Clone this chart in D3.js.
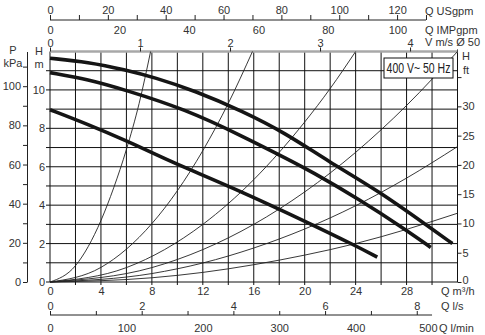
<!DOCTYPE html>
<html>
<head>
<meta charset="utf-8">
<script src="https://cdn.jsdelivr.net/npm/d3@7"></script>
<style>
  body { margin: 0; background: #fff; }
  svg text { font-family: "Liberation Sans", Arial, sans-serif; font-size: 11px; fill: #333; }
  .axis .domain { stroke: #222; }
  .axis line { stroke: #222; }
</style>
</head>
<body>
<svg class="chart"></svg>
<script>
// pump curves at three speeds, [Q m3/h, H m]
const speed3 = [[0, 11.65], [3, 11.45], [5.9, 11.05], [8.2, 10.65], [11.4, 9.95], [15.1, 8.9],
                [18.5, 7.75], [21.8, 6.3], [25.9, 4.7], [29.8, 2.85], [31.6, 2.0]];
const speed2 = [[0, 10.9], [3, 10.55], [5.9, 10.0], [10.6, 9.0], [15.1, 7.6], [18.8, 6.35],
                [20.4, 5.8], [24.3, 4.3], [28.0, 2.7], [29.9, 1.8]];
const speed1 = [[0, 8.97], [3, 8.2], [5.9, 7.38], [9.3, 6.34], [10.8, 5.9], [15.1, 4.69],
                [20.4, 3.05], [23.9, 1.92], [25.7, 1.3]];

// system (resistance) curves
const sysA = [[0, 0], [2, 0.85], [4, 3.2], [5, 4.9], [6, 6.9], [7, 9.3], [7.9, 12]];
const sysB = [[0, 0], [4, 0.76], [8, 3.04], [10, 4.75], [12, 6.84], [14, 9.3], [15.9, 12]];
const sysC = [[0, 0], [6, 0.75], [12, 3.0], [16, 5.33], [18, 6.75], [20, 8.33], [22, 10.07], [24, 12]];
const sysD = [[0, 0], [8, 0.75], [16, 3.0], [20, 4.69], [24, 6.75], [28, 9.19], [32, 12]];
const sysE = [[0, 0], [8, 0.44], [12, 0.99], [16, 1.77], [20, 2.76], [24, 3.97], [28, 5.41], [32, 7.05]];
const sysF = [[0, 0], [8, 0.22], [12, 0.5], [16, 0.9], [20, 1.4], [24, 2.0], [28, 2.74], [32, 3.58]];

// tick values for each scale
const qM3hTicks = [0, 4, 8, 12, 16, 20, 24, 28];
const gridQ = [2, 4, 6, 8, 10, 12, 14, 16, 18, 20, 22, 24, 26, 28, 30];
const gridH = [1, 2, 3, 4, 5, 6, 7, 8, 9, 10, 11];
const hMTicks = [0, 2, 4, 6, 8, 10];
const pKpaTicks = [0, 10, 20, 30, 40, 50, 60, 70, 80, 90, 100, 110];
const pKpaLabels = [0, 20, 40, 60, 80, 100];
const hFtTicks = [0, 5, 10, 15, 20, 25, 30, 35];
const hFtLabels = [0, 5, 10, 15, 20, 25, 30];
const usTicks = [0, 10, 20, 30, 40, 50, 60, 70, 80, 90, 100, 110, 120, 130];
const usLabels = [0, 20, 40, 60, 80, 100, 120];
const impLabels = [0, 20, 40, 60, 80, 100];
const vTicks = [0, 1, 2, 3, 4];
const lsTicks = [0, 1, 2, 3, 4, 5, 6, 7, 8];
const lsLabels = [0, 2, 4, 6, 8];
const lminLabels = [0, 100, 200, 300, 400, 500];

const width = 485, height = 335;
const plotLeft = 50, plotRight = 457.5, plotTop = 51.5, plotBottom = 282;

const svg = d3.select(".chart").attr("width", width).attr("height", height);

const x = d3.scaleLinear().domain([0, 32]).range([plotLeft, plotRight]);
const y = d3.scaleLinear().domain([0, 12]).range([plotBottom, plotTop]);

// unit conversions for the extra axes
const xUS = d3.scaleLinear().domain([0, 32 * 4.4029]).range([plotLeft, plotRight]);
const xIMP = d3.scaleLinear().domain([0, 32 * 3.6662]).range([plotLeft, plotRight]);
const xV = d3.scaleLinear().domain([0, 32 / 3600 / (Math.PI * 0.025 * 0.025)]).range([plotLeft, plotRight]);
const xLs = d3.scaleLinear().domain([0, 32 / 3.6]).range([plotLeft, plotRight]);
const xLmin = d3.scaleLinear().domain([0, 32 / 0.06]).range([plotLeft, plotRight]);
const yKpa = d3.scaleLinear().domain([0, 12 * 9.81]).range([plotBottom, plotTop]);
const yFt = d3.scaleLinear().domain([0, 12 / 0.3048]).range([plotBottom, plotTop]);

const fmtOnly = (list) => (d) => list.includes(d) ? d : "";
// drop the empty labels of unlabelled ticks
const dropEmpty = (g) => g.selectAll(".tick text").filter(function() { return this.textContent === ""; }).remove();

// grid
svg.append("g").selectAll("line")
    .data(gridQ)
  .enter().append("line")
    .attr("x1", d => x(d)).attr("x2", d => x(d))
    .attr("y1", plotTop).attr("y2", plotBottom + 3)
    .attr("stroke", "#111").attr("stroke-width", 1);

svg.append("g").selectAll("line")
    .data(gridH)
  .enter().append("line")
    .attr("x1", plotLeft - 4).attr("x2", plotRight)
    .attr("y1", d => y(d)).attr("y2", d => y(d))
    .attr("stroke", "#111").attr("stroke-width", 1);

// frame
svg.append("line").attr("x1", plotLeft).attr("x2", plotLeft).attr("y1", plotTop).attr("y2", plotBottom)
    .attr("stroke", "#111");
svg.append("line").attr("x1", plotRight).attr("x2", plotRight).attr("y1", plotTop - 2).attr("y2", plotBottom)
    .attr("stroke", "#111");
svg.append("line").attr("x1", plotLeft - 4).attr("x2", plotRight).attr("y1", plotBottom).attr("y2", plotBottom)
    .attr("stroke", "#111");
svg.append("line").attr("x1", plotLeft).attr("x2", plotRight).attr("y1", plotTop).attr("y2", plotTop)
    .attr("stroke", "#a8a8a8").attr("stroke-width", 2.5);

// system curves
const thin = d3.line().x(d => x(d[0])).y(d => y(d[1])).curve(d3.curveMonotoneX);
svg.append("g").selectAll("path")
    .data([sysA, sysB, sysC, sysD, sysE, sysF])
  .enter().append("path")
    .attr("d", thin)
    .attr("fill", "none")
    .attr("stroke", "#222")
    .attr("stroke-width", 0.9);

// pump curves
const thick = d3.line().x(d => x(d[0])).y(d => y(d[1])).curve(d3.curveBasis);
svg.append("g").selectAll("path")
    .data([speed3, speed2, speed1])
  .enter().append("path")
    .attr("d", thick)
    .attr("fill", "none")
    .attr("stroke", "#151515")
    .attr("stroke-width", 3.6);

// left H m axis
const hAxis = svg.append("g").attr("class", "axis")
    .attr("transform", "translate(" + plotLeft + ",0)")
    .call(d3.axisLeft(y).tickValues(hMTicks).tickSize(0).tickPadding(5));
hAxis.select(".domain").remove();

// P kPa axis
svg.append("g").attr("class", "axis")
    .attr("transform", "translate(27,0)")
    .call(d3.axisLeft(yKpa).tickValues(pKpaTicks).tickFormat(fmtOnly(pKpaLabels))
            .tickSize(4).tickSizeOuter(0).tickPadding(2))
    .call(dropEmpty);

// H ft axis
const ftAxis = svg.append("g").attr("class", "axis")
    .attr("transform", "translate(" + plotRight + ",0)")
    .call(d3.axisRight(yFt).tickValues(hFtTicks).tickFormat(fmtOnly(hFtLabels))
            .tickSize(4).tickPadding(1))
    .call(dropEmpty);
ftAxis.select(".domain").remove();
ftAxis.selectAll(".tick text").filter(d => d === 0).attr("dy", "0.1em");

// bottom m3/h axis
const qAxis = svg.append("g").attr("class", "axis")
    .attr("transform", "translate(0," + plotBottom + ")")
    .call(d3.axisBottom(x).tickValues(qM3hTicks).tickSize(0).tickPadding(5));
qAxis.select(".domain").remove();

// l/s and l/min axes
const lsY = 315;
svg.append("line").attr("x1", plotLeft).attr("x2", xLmin(500)).attr("y1", lsY).attr("y2", lsY)
    .attr("stroke", "#222");
const lsAxis = svg.append("g").attr("class", "axis")
    .attr("transform", "translate(0," + lsY + ")")
    .call(d3.axisTop(xLs).tickValues(lsTicks).tickFormat(fmtOnly(lsLabels)).tickSize(4).tickPadding(1))
    .call(dropEmpty);
lsAxis.select(".domain").remove();
const lminAxis = svg.append("g").attr("class", "axis")
    .attr("transform", "translate(0," + lsY + ")")
    .call(d3.axisBottom(xLmin).tickValues(lminLabels).tickSize(0).tickPadding(9));
lminAxis.select(".domain").remove();
lminAxis.selectAll(".tick text").filter(d => d === 500)
    .attr("text-anchor", "end").attr("x", 5);

// top USgpm / IMPgpm axes
const usY = 20;
svg.append("line").attr("x1", plotLeft).attr("x2", xUS(130)).attr("y1", usY).attr("y2", usY)
    .attr("stroke", "#222");
const usAxis = svg.append("g").attr("class", "axis")
    .attr("transform", "translate(0," + usY + ")")
    .call(d3.axisTop(xUS).tickValues(usTicks).tickFormat(fmtOnly(usLabels)).tickSize(5).tickPadding(1))
    .call(dropEmpty);
usAxis.select(".domain").remove();
const impAxis = svg.append("g").attr("class", "axis")
    .attr("transform", "translate(0," + usY + ")")
    .call(d3.axisBottom(xIMP).tickValues(impLabels).tickSize(0).tickPadding(6));
impAxis.select(".domain").remove();

// velocity axis
const vAxis = svg.append("g").attr("class", "axis")
    .attr("transform", "translate(0," + plotTop + ")")
    .call(d3.axisTop(xV).tickValues(vTicks).tickFormat(d3.format("d")).tickSize(4).tickPadding(1));
vAxis.select(".domain").remove();

// unit labels
const labels = [
  ["Q USgpm", 425, 15], ["Q IMPgpm", 425, 34], ["V m/s Ø 50", 425, 46],
  ["Q m³/h", 441, 295], ["Q l/s", 441, 310], ["Q l/min", 439, 332],
  ["P", 13, 54], ["kPa", 13, 67], ["H", 39, 55], ["m", 39, 68],
  ["H", 466, 60], ["ft", 466, 74]
];
svg.append("g").selectAll("text")
    .data(labels)
  .enter().append("text")
    .attr("x", d => d[1])
    .attr("y", d => d[2])
    .attr("text-anchor", d => d[1] < 60 || d[1] > 460 ? "middle" : "start")
    .text(d => d[0]);

// voltage box
svg.append("rect")
    .attr("x", 384).attr("y", 58).attr("width", 69).attr("height", 20)
    .attr("fill", "#fff").attr("stroke", "#111");
svg.append("text")
    .attr("transform", "translate(418.5,73) scale(0.75,1)")
    .attr("text-anchor", "middle")
    .style("font-size", "14px").style("fill", "#222")
    .text("400 V~ 50 Hz");
</script>
</body>
</html>
